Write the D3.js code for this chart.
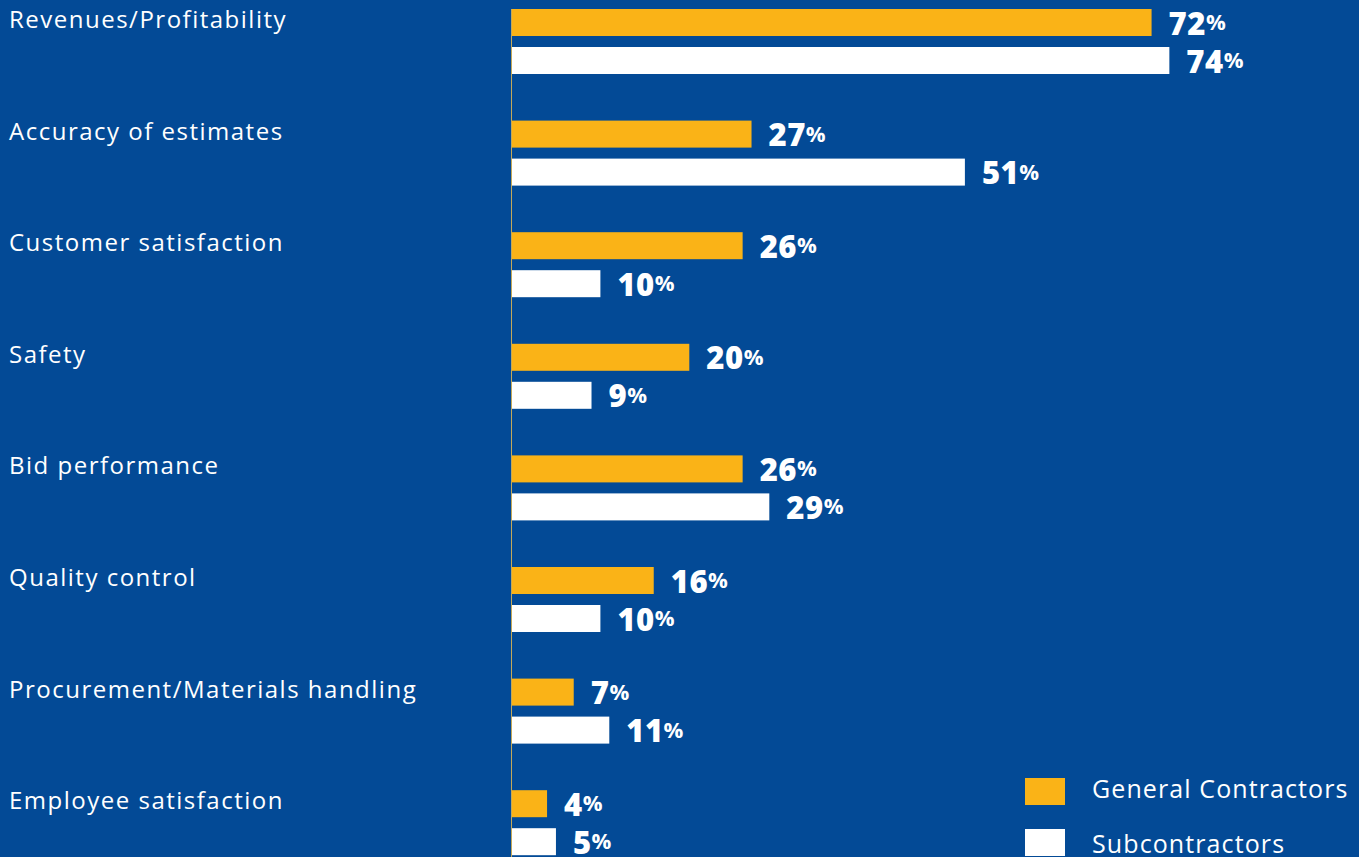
<!DOCTYPE html>
<html>
<head>
<meta charset="utf-8">
<script src="https://cdn.jsdelivr.net/npm/d3@7"></script>
<style>
  html, body { margin: 0; padding: 0; background: #034a96; }
  svg { display: block; }
</style>
</head>
<body>
<svg id="chart" width="1359" height="857"></svg>
<script>
// Share of respondents per KPI area
const categories = [
  "Revenues/Profitability",
  "Accuracy of estimates",
  "Customer satisfaction",
  "Safety",
  "Bid performance",
  "Quality control",
  "Procurement/Materials handling",
  "Employee satisfaction"
];
const generalContractors = [72, 27, 26, 20, 26, 16, 7, 4];
const subcontractors = [74, 51, 10, 9, 29, 10, 11, 5];
const seriesNames = ["General Contractors", "Subcontractors"];
const seriesColors = ["#fab317", "#ffffff"];

const W = 1359, H = 857;
const bg = "#034a96";
const font = "'Open Sans', Lato, sans-serif";
const svg = d3.select("#chart");
svg.append("rect").attr("width", W).attr("height", H).attr("fill", bg);

const x0 = 511.5;
const x = d3.scaleLinear().domain([0, 100]).range([x0, x0 + 889]);
const y = d3.scaleBand().domain(categories).range([9, 9 + 111.6 * 8]).paddingInner(0).paddingOuter(0);
const barH = 27, barGap = 11;

const series = [generalContractors, subcontractors];

// category labels
svg.append("g").selectAll("text").data(categories).join("text")
  .attr("x", 9)
  .attr("y", d => y(d) + 19)
  .attr("fill", "#ffffff")
  .attr("font-family", font)
  .attr("font-size", 24)
  .attr("font-weight", 400)
  .attr("letter-spacing", 1.5)
  .text(d => d);

// baseline axis
svg.append("line")
  .attr("x1", x0).attr("x2", x0)
  .attr("y1", y(categories[0])).attr("y2", H)
  .attr("stroke", "#c2a85a").attr("stroke-width", 1);

series.forEach((vals, si) => {
  const g = svg.append("g");
  const rows = categories.map((c, i) => ({ c, v: vals[i] }));
  g.selectAll("rect").data(rows).join("rect")
    .attr("x", x(0) + 0.5)
    .attr("y", d => y(d.c) + si * (barH + barGap))
    .attr("width", d => x(d.v) - x(0) - 0.5)
    .attr("height", barH)
    .attr("fill", seriesColors[si]);

  const t = g.selectAll("text").data(rows).join("text")
    .attr("x", d => x(d.v) + 17)
    .attr("y", d => y(d.c) + si * (barH + barGap) + 25.5)
    .attr("fill", "#ffffff")
    .attr("font-family", font)
    .attr("font-weight", 800);
  t.append("tspan").attr("font-size", 31).attr("letter-spacing", 0.5).text(d => d.v);
  t.append("tspan").attr("font-size", 22).attr("font-weight", 700)
    .attr("dy", -4.5).text("%");
});

// legend
const legend = svg.append("g");
seriesNames.forEach((name, i) => {
  legend.append("rect")
    .attr("x", 1025).attr("y", 778 + i * 51)
    .attr("width", 40).attr("height", 27)
    .attr("fill", seriesColors[i]);
  legend.append("text")
    .attr("x", 1092).attr("y", 798 + i * 55)
    .attr("fill", "#ffffff")
    .attr("font-family", font)
    .attr("font-size", 25)
    .attr("letter-spacing", 1.1)
    .text(name);
});
</script>
</body>
</html>
